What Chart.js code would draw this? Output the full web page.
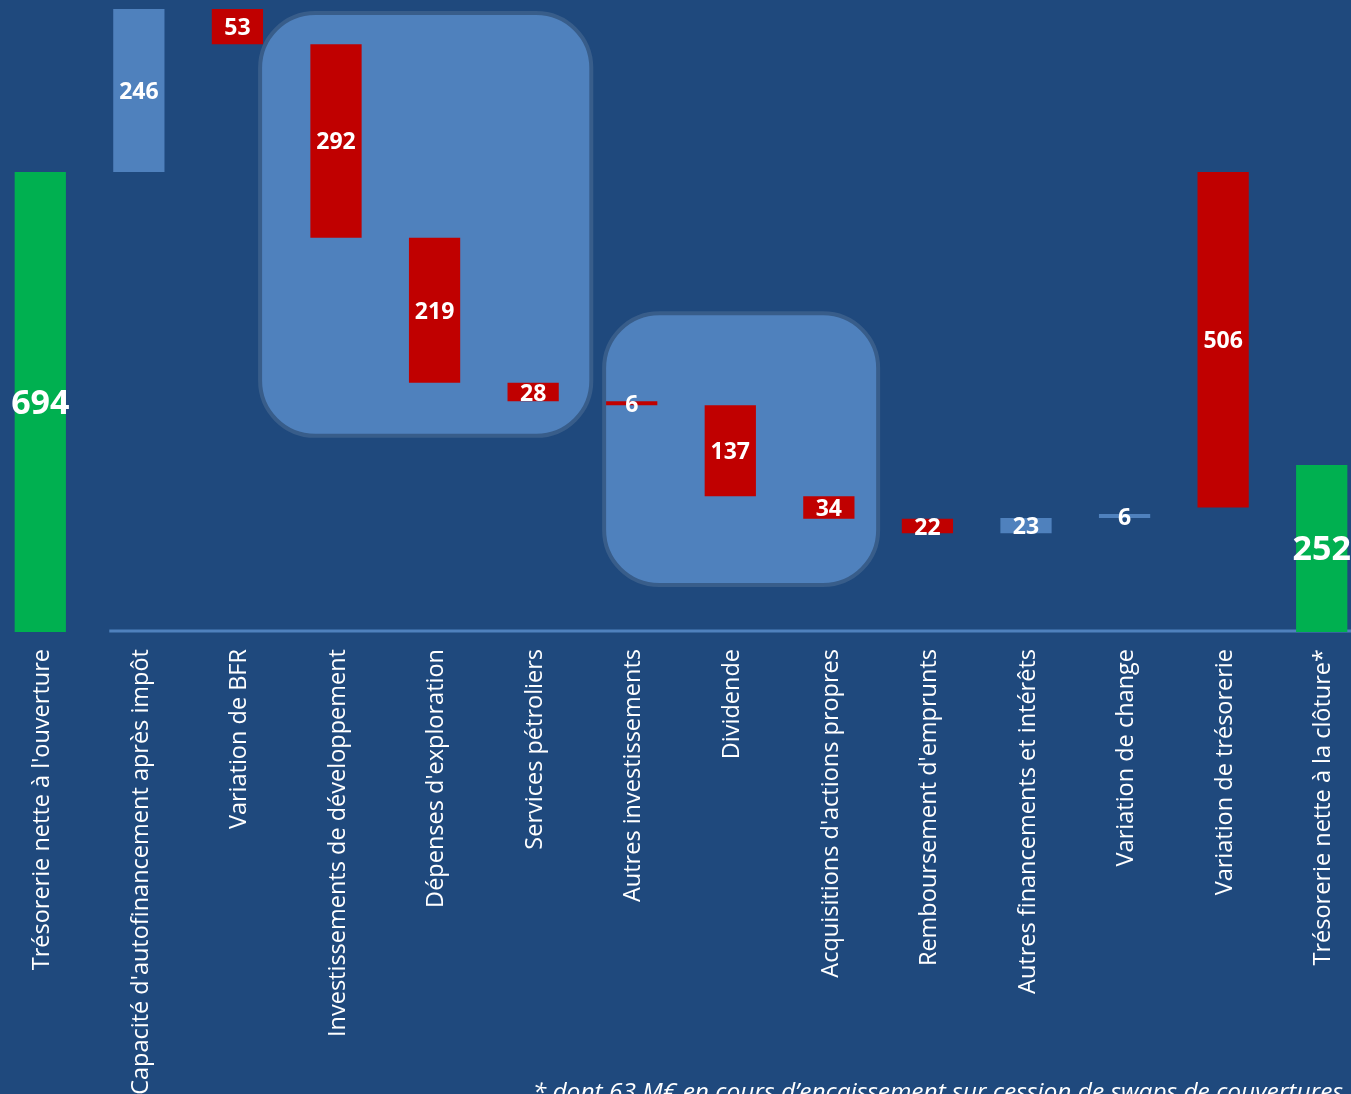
<!DOCTYPE html>
<html>
<head>
<meta charset="utf-8">
<script src="https://cdn.jsdelivr.net/npm/chart.js@4/dist/chart.umd.min.js"></script>
<style>
    html, body { margin: 0; padding: 0; background: #1F497D; overflow: hidden; width: 1351px; height: 1094px; }
    #wrap { position: absolute; left: -9px; top: 0; width: 1380px; height: 1094px; }
    #note { position: absolute; right: 8px; top: 1074px; color: #fff; font: italic 24.5px "Open Sans", sans-serif; white-space: nowrap; }
</style>
</head>
<body>
<div id="wrap"><canvas id="chart" width="1380" height="1094"></canvas></div>
<div id="note">* dont 63 M€ en cours d’encaissement sur cession de swaps de couvertures</div>
<script>
let labels = [
    "Trésorerie nette à l'ouverture",
    "Capacité d'autofinancement après impôt",
    "Variation de BFR",
    "Investissements de développement",
    "Dépenses d'exploration",
    "Services pétroliers",
    "Autres investissements",
    "Dividende",
    "Acquisitions d'actions propres",
    "Remboursement d'emprunts",
    "Autres financements et intérêts",
    "Variation de change",
    "Variation de trésorerie",
    "Trésorerie nette à la clôture*"
];
let values = [694, 246, -53, -292, -219, -28, -6, -137, -34, -22, 23, 6, -506, 252];
// total = from zero, delta = running, variation = from the opening amount
let kinds = ['total', 'delta', 'delta', 'delta', 'delta', 'delta', 'delta', 'delta', 'delta', 'delta', 'delta', 'delta', 'variation', 'total'];

// grouping boxes, in category index / value units
let groupFrom = [2.23, 5.72];
let groupTo = [5.59, 8.5];
let groupTop = [934, 481];
let groupBottom = [296, 71];

let bars = [];
let colors = [];
let running = 0;
values.forEach((v, i) => {
    let kind = kinds[i];
    if (kind === 'total') {
        bars.push([0, v]);
        colors.push('#00B050');
        if (i === 0) running = v;
    } else if (kind === 'variation') {
        bars.push([values[0], values[0] + v]);
        colors.push(v < 0 ? '#C00000' : '#4F81BD');
    } else {
        bars.push([running, running + v]);
        colors.push(v < 0 ? '#C00000' : '#4F81BD');
        running += v;
    }
});

let roundRect = (ctx, x, y, w, h, r) => {
    ctx.beginPath();
    ctx.moveTo(x + r, y);
    ctx.arcTo(x + w, y, x + w, y + h, r);
    ctx.arcTo(x + w, y + h, x, y + h, r);
    ctx.arcTo(x, y + h, x, y, r);
    ctx.arcTo(x, y, x + w, y, r);
    ctx.closePath();
};

let groupBoxes = {
    id: 'groupBoxes',
    beforeDatasetsDraw(chart) {
        let ctx = chart.ctx;
        let xs = chart.scales.x, ys = chart.scales.y;
        ctx.save();
        groupFrom.forEach((from, i) => {
            let x1 = xs.getPixelForValue(from), x2 = xs.getPixelForValue(groupTo[i]);
            let y1 = ys.getPixelForValue(groupTop[i]), y2 = ys.getPixelForValue(groupBottom[i]);
            roundRect(ctx, x1, y1, x2 - x1, y2 - y1, 55);
            ctx.fillStyle = '#4F81BD';
            ctx.fill();
            ctx.lineWidth = 4;
            ctx.strokeStyle = '#385D8A';
            ctx.stroke();
        });
        // axis line
        let y0 = ys.getPixelForValue(0) - 1;
        ctx.strokeStyle = '#4F81BD';
        ctx.lineWidth = 3;
        ctx.beginPath();
        ctx.moveTo(xs.getPixelForValue(0.7), y0);
        ctx.lineTo(chart.width, y0);
        ctx.stroke();
        ctx.restore();
    },
    afterDatasetsDraw(chart) {
        let ctx = chart.ctx;
        let meta = chart.getDatasetMeta(0);
        ctx.save();
        ctx.fillStyle = '#fff';
        ctx.textAlign = 'center';
        ctx.textBaseline = 'middle';
        meta.data.forEach((bar, i) => {
            let big = kinds[i] === 'total';
            ctx.font = 'bold ' + (big ? 34 : 23) + 'px "Open Sans", sans-serif';
            ctx.fillText(Math.abs(values[i]), bar.x, (bar.y + bar.base) / 2 + 2);
        });
        ctx.restore();
    }
};

new Chart(document.getElementById('chart'), {
    type: 'bar',
    data: {
        labels: labels,
        datasets: [{
            data: bars,
            backgroundColor: colors,
            borderWidth: 0,
            barPercentage: 0.52,
            categoryPercentage: 1
        }]
    },
    options: {
        responsive: false,
        animation: false,
        layout: { padding: { top: 9, left: 0, right: 0, bottom: 0 } },
        plugins: { legend: { display: false }, tooltip: { enabled: false } },
        scales: {
            x: {
                grid: { display: false, drawTicks: false },
                border: { display: false },
                ticks: {
                    color: '#fff',
                    font: { family: 'Open Sans', size: 23.5 },
                    maxRotation: 90,
                    minRotation: 90,
                    padding: 17,
                    labelOffset: 2,
                    autoSkip: false
                },
                afterFit: scale => { scale.height = 462; }
            },
            y: {
                display: false,
                min: 0,
                max: 940
            }
        }
    },
    plugins: [groupBoxes]
});
</script>
</body>
</html>
